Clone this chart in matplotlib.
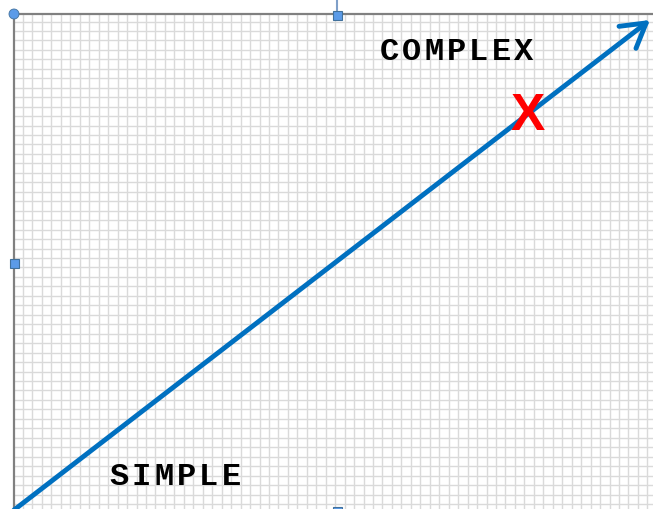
import numpy as np
import matplotlib
matplotlib.use('Agg')
import matplotlib.pyplot as plt
from matplotlib.patches import Rectangle, Circle

### Diagram content (pixel space of the 653x510 picture)
arrow_start = [14, 511]
arrow_end = [650, 21]
low_label = 'SIMPLE'
low_label_pos = [119, 477]
high_label = 'COMPLEX'
high_label_pos = [389, 52]
marker_text = 'X'
marker_pos = [528, 117]

### Figure setup
W, H = 653, 510
fig = plt.figure(figsize=(W/100., H/100.), dpi=100)
ax = fig.add_axes([0, 0, 1, 1])
ax.set_xlim(0, W)
ax.set_ylim(H, 0)
ax.axis('off')

# Graph paper grid
gx = np.arange(23., W, 9.46)
gy = np.arange(22.5, H, 9.46)
ax.vlines(gx, 14, H, colors='#dadada', lw=1.0, zorder=1)
ax.hlines(gy, 14, W, colors='#dadada', lw=1.0, zorder=1)

# Shape border (top and left)
ax.plot([14, W], [15, 15], color='#808080', lw=1.6, zorder=2)
ax.plot([14, 14], [15, H], color='#808080', lw=1.6, zorder=2)

# Arrow
ax.annotate('', xy=arrow_end, xytext=arrow_start,
            arrowprops=dict(arrowstyle='->,head_length=0.85,head_width=0.5',
                            color='#0070c0', lw=3.5, mutation_scale=20,
                            shrinkA=0, shrinkB=0, capstyle='round'),
            zorder=3)

# Labels, one letter at a time to get the wide spacing
step = 22.4
for i, ch in enumerate(high_label):
  ax.text(high_label_pos[0] + i*step, high_label_pos[1], ch, family='Liberation Mono',
          fontweight='bold', fontsize=23, ha='center', va='center', color='black', zorder=4)
for i, ch in enumerate(low_label):
  ax.text(low_label_pos[0] + i*step, low_label_pos[1], ch, family='Liberation Mono',
          fontweight='bold', fontsize=23, ha='center', va='center', color='black', zorder=4)

ax.text(marker_pos[0], marker_pos[1], marker_text, family='Liberation Sans', fontweight='bold',
        fontsize=37, ha='center', va='center', color='#ff0000', zorder=5)

# Selection handles
hc, he = '#5b9be8', '#41719c'
ax.plot([337, 337], [2, 12], color='#7f9fc8', lw=1.5, zorder=5)
ax.add_patch(Circle((14, 15), 5, facecolor=hc, edgecolor=he, lw=0.6, zorder=6))
for (cx, cy) in [(337, 16), (14, 264), (337, 512)]:
  ax.add_patch(Rectangle((cx-4.5, cy-4.5), 9, 9, facecolor=hc, edgecolor=he, lw=0.8, zorder=6))

fig.savefig('out.png', dpi=100)
